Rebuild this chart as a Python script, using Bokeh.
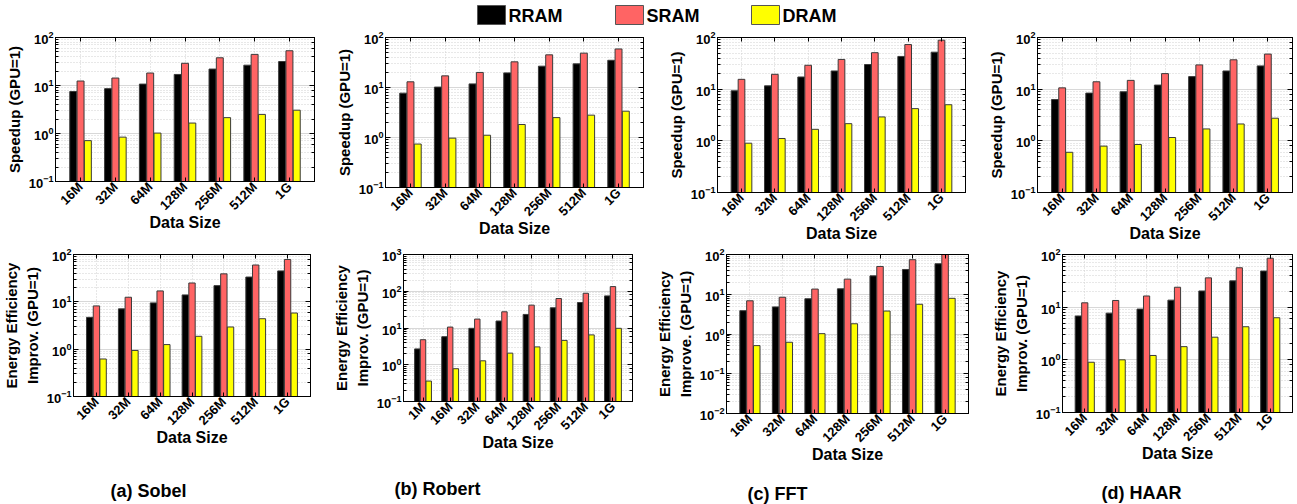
import math
from bokeh.plotting import figure
from bokeh.models import ColumnDataSource, Range1d, FixedTicker, LogAxis, LinearAxis
from bokeh.layouts import column, row
from bokeh.transform import dodge
from bokeh.embed import file_html
from bokeh.resources import INLINE
from bokeh.core.properties import value

# ---------------- data ----------------
cats7 = ["16M", "32M", "64M", "128M", "256M", "512M", "1G"]
cats8 = ["1M", "16M", "32M", "64M", "128M", "256M", "512M", "1G"]
series_names = ["RRAM", "SRAM", "DRAM"]
series_colors = ["#000000", "#FF6464", "#FFFF00"]
captions = ["(a) Sobel", "(b) Robert", "(c) FFT", "(d) HAAR"]

sobel_speed_rram = [7.5, 8.6, 10.7, 17.0, 22.0, 26.5, 31.6]
sobel_speed_sram = [12.4, 14.3, 18.2, 29.0, 37.8, 44.5, 53.0]
sobel_speed_dram = [0.71, 0.84, 1.02, 1.65, 2.14, 2.5, 3.06]

robert_speed_rram = [7.7, 10.2, 11.8, 19.6, 26.7, 29.7, 35.0]
robert_speed_sram = [13.0, 17.1, 20.0, 32.6, 45.0, 48.6, 59.0]
robert_speed_dram = [0.74, 0.97, 1.11, 1.82, 2.5, 2.8, 3.36]

fft_speed_rram = [9.3, 11.6, 17.2, 22.5, 30.0, 43.0, 52.0]
fft_speed_sram = [15.5, 19.4, 29.0, 37.6, 50.8, 73.0, 88.7]
fft_speed_dram = [0.9, 1.11, 1.67, 2.15, 2.9, 4.2, 5.0]

haar_speed_rram = [6.3, 8.4, 8.9, 12.0, 17.5, 22.5, 28.2]
haar_speed_sram = [10.6, 13.9, 14.8, 20.0, 29.5, 37.0, 47.8]
haar_speed_dram = [0.6, 0.79, 0.85, 1.16, 1.7, 2.12, 2.74]

sobel_energy_rram = [4.7, 7.1, 9.5, 14.0, 22.0, 33.4, 45.0]
sobel_energy_sram = [8.2, 12.5, 17.0, 25.0, 39.0, 60.0, 78.5]
sobel_energy_dram = [0.62, 0.94, 1.25, 1.87, 2.94, 4.4, 5.8]

robert_energy_rram = [2.7, 5.8, 9.8, 15.5, 23.4, 35.5, 49.4, 74.8]
robert_energy_sram = [4.8, 10.6, 17.5, 27.6, 41.9, 63.4, 88.0, 134.0]
robert_energy_dram = [0.36, 0.78, 1.28, 2.07, 3.06, 4.6, 6.5, 9.8]

fft_energy_rram = [3.86, 4.8, 7.7, 13.7, 29.0, 42.0, 58.5]
fft_energy_sram = [6.85, 8.4, 13.5, 24.0, 50.0, 74.0, 100.0]
fft_energy_dram = [0.51, 0.62, 1.02, 1.81, 3.78, 5.6, 7.9]

haar_energy_rram = [6.8, 7.7, 9.2, 13.6, 20.3, 31.6, 48.5]
haar_energy_sram = [12.1, 13.4, 16.3, 23.9, 36.0, 56.0, 85.0]
haar_energy_dram = [0.9, 1.0, 1.21, 1.78, 2.69, 4.25, 6.3]

speed_label = "Speedup (GPU=1)"
energy_label = "Energy Efficiency\nImprov. (GPU=1)"
energy_label_fft = "Energy Efficiency\nImprove. (GPU=1)"
xlabel = "Data Size"

FONT = "Liberation Sans"


def panel(cats, rram, sram, dram, ylo, yhi, ylabel, width, height, bl, br, bt, bb):
    n = len(cats)
    xs = list(range(n))
    src = ColumnDataSource(dict(x=xs, rram=rram, sram=sram, dram=dram))
    p = figure(width=width, height=height, y_axis_type="log",
               x_range=Range1d(-0.72, n - 1 + 0.72), y_range=Range1d(ylo, yhi),
               output_backend="svg", toolbar_location=None,
               min_border_left=bl, min_border_right=br,
               min_border_top=bt, min_border_bottom=bb)
    for key, off, col in zip(["rram", "sram", "dram"], [-0.21, 0.0, 0.21], series_colors):
        p.vbar(x=dodge("x", off), top=key, bottom=ylo, width=0.2, source=src,
               fill_color=col, line_color="#3a3a3a", line_width=1)

    p.outline_line_color = "black"
    p.outline_line_width = 1
    p.background_fill_color = "white"
    p.border_fill_color = "white"

    xa = p.xaxis[0]
    xa.ticker = FixedTicker(ticks=xs)
    xa.major_label_overrides = {i: c for i, c in enumerate(cats)}
    xa.major_label_orientation = math.pi / 4
    xa.minor_tick_line_color = None
    xa.major_tick_in = 4
    xa.major_tick_out = 0
    xa.major_label_standoff = 3
    xa.axis_label = xlabel
    xa.axis_label_standoff = -7

    ya = p.yaxis[0]
    ya.major_tick_in = 5
    ya.major_tick_out = 0
    ya.minor_tick_in = 3
    ya.minor_tick_out = 0
    ya.major_label_standoff = 2
    ya.axis_label = ylabel
    ya.axis_label_standoff = 3

    for ax in (xa, ya):
        ax.axis_line_color = "black"
        ax.major_tick_line_color = "black"
        ax.major_label_text_font = FONT
        ax.major_label_text_font_style = "bold"
        ax.major_label_text_color = "black"
        ax.axis_label_text_font = FONT
        ax.axis_label_text_font_style = "bold"
        ax.axis_label_text_color = "black"
    xa.major_label_text_font_size = "13px"
    ya.major_label_text_font_size = "13px"
    xa.axis_label_text_font_size = "16px"
    ya.axis_label_text_font_size = "15px"

    ra = LogAxis(major_label_text_font_size="1px", major_label_text_alpha=0,
                 major_tick_in=5, major_tick_out=0,
                 minor_tick_in=3, minor_tick_out=0, major_label_standoff=0,
                 axis_line_color="black")
    p.add_layout(ra, "right")
    ta = LinearAxis(ticker=FixedTicker(ticks=xs), major_label_text_font_size="1px",
                    major_label_text_alpha=0,
                    major_tick_in=4, major_tick_out=0, minor_tick_line_color=None,
                    major_label_standoff=0, axis_line_color="black")
    p.add_layout(ta, "above")

    p.xgrid.grid_line_color = "#cfcfcf"
    p.xgrid.grid_line_dash = "1 2"
    p.ygrid.grid_line_color = "#d8d8d8"
    p.ygrid.minor_grid_line_color = "#d0d0d0"
    p.ygrid.minor_grid_line_dash = "1 2"
    return p


# Rows align their plots' top/bottom borders, so the frames' differing
# bottoms come from differing figure heights.
BB = 52
TT = 7
BT = 9

t1 = panel(cats7, sobel_speed_rram, sobel_speed_sram, sobel_speed_dram, 0.1, 100, speed_label,
           330, 204, 55, 16, TT, BB)
t2 = panel(cats7, robert_speed_rram, robert_speed_sram, robert_speed_dram, 0.1, 100, speed_label,
           333, 210, 55, 20, TT, BB)
t3 = panel(cats7, fft_speed_rram, fft_speed_sram, fft_speed_dram, 0.1, 100, speed_label,
           320, 215, 54, 18, TT, BB)
t4 = panel(cats7, haar_speed_rram, haar_speed_sram, haar_speed_dram, 0.1, 100, speed_label,
           314, 215, 54, 5, TT, BB)

b1 = panel(cats7, sobel_energy_rram, sobel_energy_sram, sobel_energy_dram, 0.1, 100, energy_label,
           330, 204, 71, 20, BT, BB)
b2 = panel(cats8, robert_energy_rram, robert_energy_sram, robert_energy_dram, 0.1, 1000, energy_label,
           323, 209, 62, 21, BT, BB)
b3 = panel(cats7, fft_energy_rram, fft_energy_sram, fft_energy_dram, 0.01, 100, energy_label_fft,
           330, 221, 72, 15, BT, BB)
b4 = panel(cats7, haar_energy_rram, haar_energy_sram, haar_energy_dram, 0.1, 100, energy_label,
           314, 220, 79, 5, BT, BB)

W = 1297


def blank(h):
    f = figure(width=W, height=h, x_range=Range1d(0, W), y_range=Range1d(0, h),
               output_backend="svg", toolbar_location=None,
               min_border_left=0, min_border_right=0, min_border_top=0, min_border_bottom=0)
    f.axis.visible = False
    f.grid.visible = False
    f.outline_line_color = None
    return f


LEG_H = 30
leg = blank(LEG_H)
leg.rect(x=[491, 629, 765], y=LEG_H - 14.5, width=28, height=19,
         fill_color=series_colors, line_color="#555555", line_width=1)
leg.text(x=[508, 646, 782], y=LEG_H - 15, text=series_names,
         text_font=value(FONT), text_font_style="bold", text_font_size="18px",
         text_align="left", text_baseline="middle", text_color="black")

CAP_H = 38
cap = blank(CAP_H)
cap.text(x=[148, 437, 777, 1141], y=[14, 16, 11, 12], text=captions,
         text_font=value(FONT), text_font_style="bold", text_font_size="18px",
         text_align="center", text_baseline="middle", text_color="black")

layout = column(leg, row(t1, t2, t3, t4), row(b1, b2, b3, b4), cap)

open("out.html", "w").write(file_html(layout, INLINE))
